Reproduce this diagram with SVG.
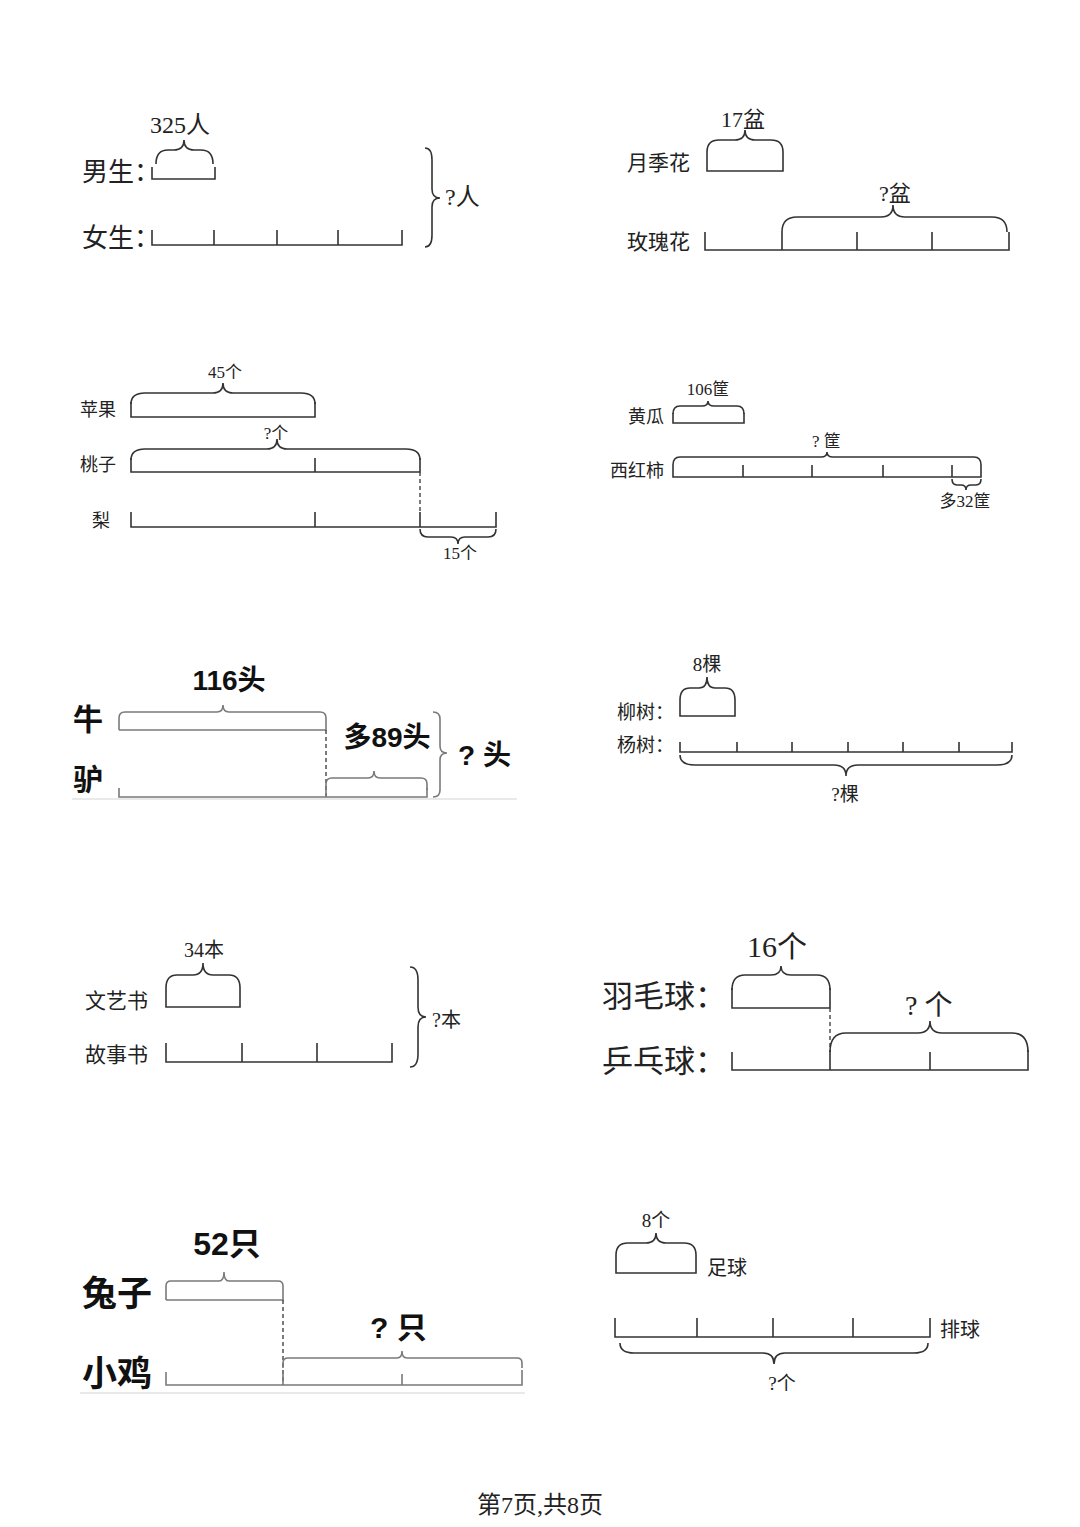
<svg xmlns="http://www.w3.org/2000/svg" width="1080" height="1527" viewBox="0 0 1080 1527">
<style>
.ln{fill:none;stroke:#333;stroke-width:1.6;stroke-linejoin:miter}
.br{fill:none;stroke:#333;stroke-width:1.6}
.g{stroke:#7a7a7a}
.dash{fill:none;stroke:#444;stroke-width:1.4;stroke-dasharray:4 3}
.faint{fill:none;stroke:#e2e2e2;stroke-width:1.5}
.lab{font-family:"Noto Sans CJK SC","Noto Sans",sans-serif;fill:#222}
.num{font-family:"Liberation Serif","Noto Sans CJK SC",serif;fill:#222}
.bold{font-family:"Liberation Sans","Noto Sans CJK SC",sans-serif;font-weight:bold;fill:#111}
</style>
<rect width="1080" height="1527" fill="#fff"/>

<!-- Diagram 1 -->
<g id="d1">
<text class="num" x="180" y="133" font-size="24" text-anchor="middle">325人</text>
<path class="br" d="M156 164 Q156 150 168 150 L174 150 Q184 150 184 140 Q184 150 194 150 L201 150 Q213 150 213 164"/>
<text class="lab" x="82" y="181" font-size="26">男生：</text>
<path class="ln" d="M152 167 V179 H215 V167"/>
<text class="lab" x="82" y="247" font-size="26">女生：</text>
<path class="ln" d="M152 230 V245 H402 V230 M214 230 V245 M277 230 V245 M338 230 V245"/>
<path class="br" d="M425 148 Q432 148 432 160 L432 189 Q432 198 440 198 Q432 198 432 207 L432 235 Q432 247 425 247"/>
<text class="num" x="445" y="205" font-size="24">?人</text>
</g>

<!-- Diagram 2 -->
<g id="d2">
<text class="num" x="743" y="127" font-size="22" text-anchor="middle">17盆</text>
<path class="br" d="M707 152 Q707 140 719 140 L735 140 Q745 140 745 130 Q745 140 755 140 L771 140 Q783 140 783 152"/>
<text class="lab" x="627" y="170" font-size="21">月季花</text>
<path class="ln" d="M707 152 V171 H783 V152"/>
<text class="num" x="895" y="201" font-size="22" text-anchor="middle">?盆</text>
<path class="br" d="M782 232 Q782 217 797 217 L881 217 Q893 217 893 205 Q893 217 905 217 L992 217 Q1007 217 1007 232"/>
<text class="lab" x="627" y="249" font-size="21">玫瑰花</text>
<path class="ln" d="M705 232 V250 H1009 V232 M782 232 V250 M857 232 V250 M932 232 V250"/>
</g>

<!-- Diagram 3 -->
<g id="d3">
<text class="num" x="225" y="378" font-size="17" text-anchor="middle">45个</text>
<path class="br" d="M131 404 Q131 393 145 393 L213 393 Q223 393 223 383 Q223 393 233 393 L301 393 Q315 393 315 404"/>
<text class="lab" x="80" y="416" font-size="18">苹果</text>
<path class="ln" d="M131 402 V417 H315 V402"/>
<text class="num" x="276" y="439" font-size="17" text-anchor="middle">?个</text>
<path class="br" d="M131 460 Q131 449 145 449 L267 449 Q277 449 277 439 Q277 449 287 449 L406 449 Q420 449 420 460"/>
<text class="lab" x="80" y="471" font-size="18">桃子</text>
<path class="ln" d="M131 458 V472 H420 V458 M315 458 V472"/>
<path class="dash" d="M420 472 V512"/>
<text class="lab" x="92" y="527" font-size="18">梨</text>
<path class="ln" d="M131 512 V527 H496 V512 M315 512 V527 M420 512 V527"/>
<path class="br" d="M420 529 Q420 537 428 537 L451 537 Q458 537 458 544 Q458 537 465 537 L488 537 Q496 537 496 529"/>
<text class="num" x="460" y="559" font-size="17" text-anchor="middle">15个</text>
</g>

<!-- Diagram 4 -->
<g id="d4">
<text class="num" x="708" y="395" font-size="17" text-anchor="middle">106筐</text>
<path class="br" d="M673 414 Q673 406 680 406 L702 406 Q708 406 708 401 Q708 406 714 406 L737 406 Q744 406 744 414"/>
<text class="lab" x="628" y="423" font-size="18">黄瓜</text>
<path class="ln" d="M673 413 V423 H744 V413"/>
<text class="num" x="812" y="447" font-size="17">? 筐</text>
<path class="br" d="M673 465 Q673 457 680 457 L821 457 Q827 457 827 452 Q827 457 833 457 L974 457 Q981 457 981 465"/>
<text class="lab" x="610" y="477" font-size="18">西红柿</text>
<path class="ln" d="M673 465 V477 H981 V465 M743 465 V477 M812 465 V477 M883 465 V477 M952 465 V477"/>
<path class="br" d="M952 479 Q952 485 957 485 L961 485 Q966 485 966 490 Q966 485 971 485 L976 485 Q981 485 981 479"/>
<text class="num" x="965" y="507" font-size="17" text-anchor="middle">多32筐</text>
</g>

<!-- Diagram 5 -->
<g id="d5">
<text class="bold" x="229" y="690" font-size="28" text-anchor="middle">116头</text>
<path class="br g" d="M119 730 V718 Q119 712 125 712 L217 712 Q223 712 223 705 Q223 712 229 712 L320 712 Q326 712 326 718 V730 H119"/>
<text class="bold" x="73" y="730" font-size="30">牛</text>
<path class="dash" d="M326 730 V797"/>
<text class="bold" x="387" y="747" font-size="28" text-anchor="middle">多89头</text>
<path class="br g" d="M326 790 V784 Q326 778 332 778 L368 778 Q374 778 374 771 Q374 778 380 778 L421 778 Q427 778 427 784 V790"/>
<path class="br g" d="M433 712 Q440 712 440 719 L440 746 Q440 753 447 753 Q440 753 440 760 L440 790 Q440 797 433 797"/>
<text class="bold" x="458" y="765" font-size="28">? 头</text>
<text class="bold" x="73" y="790" font-size="30">驴</text>
<path class="faint" d="M72 799 H517"/>
<path class="ln g" d="M119 788 V797 H427 V788 M326 788 V797"/>
</g>

<!-- Diagram 6 -->
<g id="d6">
<text class="num" x="707" y="671" font-size="19" text-anchor="middle">8棵</text>
<path class="br" d="M680 700 Q680 688 690 688 L699 688 Q707 688 707 677 Q707 688 715 688 L725 688 Q735 688 735 700"/>
<text class="lab" x="617" y="719" font-size="19">柳树：</text>
<path class="ln" d="M680 700 V716 H735 V700"/>
<text class="lab" x="617" y="752" font-size="19">杨树：</text>
<path class="ln" d="M680 742 V752 H1012 V742 M737 742 V752 M792 742 V752 M848 742 V752 M903 742 V752 M959 742 V752"/>
<path class="br" d="M680 755 Q680 765 695 765 L834 765 Q846 765 846 776 Q846 765 858 765 L997 765 Q1012 765 1012 755"/>
<text class="num" x="845" y="801" font-size="19" text-anchor="middle">?棵</text>
</g>

<!-- Diagram 7 -->
<g id="d7">
<text class="num" x="204" y="957" font-size="20" text-anchor="middle">34本</text>
<path class="br" d="M166 988 Q166 975 177 975 L193 975 Q203 975 203 963 Q203 975 213 975 L229 975 Q240 975 240 988"/>
<text class="lab" x="85" y="1008" font-size="21">文艺书</text>
<path class="ln" d="M166 988 V1007 H240 V988"/>
<text class="lab" x="85" y="1062" font-size="21">故事书</text>
<path class="ln" d="M166 1043 V1062 H392 V1043 M242 1043 V1062 M317 1043 V1062"/>
<path class="br" d="M410 967 Q418 967 418 980 L418 1007 Q418 1017 426 1017 Q418 1017 418 1027 L418 1054 Q418 1067 410 1067"/>
<text class="num" x="432" y="1027" font-size="20">?本</text>
</g>

<!-- Diagram 8 -->
<g id="d8">
<text class="num" x="777" y="957" font-size="30" text-anchor="middle">16个</text>
<path class="br" d="M732 990 Q732 975 745 975 L771 975 Q781 975 781 966 Q781 975 791 975 L817 975 Q830 975 830 990"/>
<text class="lab" x="602" y="1007" font-size="31">羽毛球：</text>
<path class="ln" d="M732 988 V1008 H830 V988"/>
<path class="dash" d="M830 1008 V1050"/>
<text class="num" x="905" y="1015" font-size="28">? 个</text>
<path class="br" d="M830 1052 Q830 1033 846 1033 L918 1033 Q930 1033 930 1021 Q930 1033 942 1033 L1012 1033 Q1028 1033 1028 1052"/>
<text class="lab" x="602" y="1072" font-size="31">乒乓球：</text>
<path class="ln" d="M732 1052 V1070 H1028 V1050 M830 1050 V1070 M930 1052 V1070"/>
</g>

<!-- Diagram 9 -->
<g id="d9">
<text class="bold" x="227" y="1255" font-size="32" text-anchor="middle">52只</text>
<path class="br g" d="M166 1300 V1286 Q166 1281 171 1281 L219 1281 Q224 1281 224 1272 Q224 1281 229 1281 L278 1281 Q283 1281 283 1286 V1300 H166"/>
<text class="bold" x="82" y="1306" font-size="35">兔子</text>
<path class="dash" d="M283 1300 V1385"/>
<text class="bold" x="370" y="1338" font-size="30">? 只</text>
<path class="br g" d="M283 1368 V1363 Q283 1358 288 1358 L397 1358 Q402 1358 402 1351 Q402 1358 407 1358 L517 1358 Q522 1358 522 1363 V1368"/>
<text class="bold" x="82" y="1386" font-size="35">小鸡</text>
<path class="faint" d="M80 1393 H525"/>
<path class="ln g" d="M166 1372 V1385 H522 V1370 M283 1370 V1385 M402 1374 V1385"/>
</g>

<!-- Diagram 10 -->
<g id="d10">
<text class="num" x="656" y="1227" font-size="19" text-anchor="middle">8个</text>
<path class="br" d="M616 1255 Q616 1243 628 1243 L646 1243 Q656 1243 656 1233 Q656 1243 666 1243 L684 1243 Q696 1243 696 1255"/>
<path class="ln" d="M616 1255 V1273 H696 V1255"/>
<text class="lab" x="707" y="1275" font-size="20">足球</text>
<path class="ln" d="M615 1318 V1337 H930 V1318 M697 1318 V1337 M773 1318 V1337 M853 1318 V1337"/>
<text class="lab" x="940" y="1337" font-size="20">排球</text>
<path class="br" d="M620 1343 Q620 1353 634 1353 L763 1353 Q774 1353 774 1364 Q774 1353 785 1353 L914 1353 Q928 1353 928 1343"/>
<text class="num" x="782" y="1390" font-size="19" text-anchor="middle">?个</text>
</g>

<text class="num" x="540" y="1513" font-size="24" text-anchor="middle">第7页,共8页</text>
</svg>
